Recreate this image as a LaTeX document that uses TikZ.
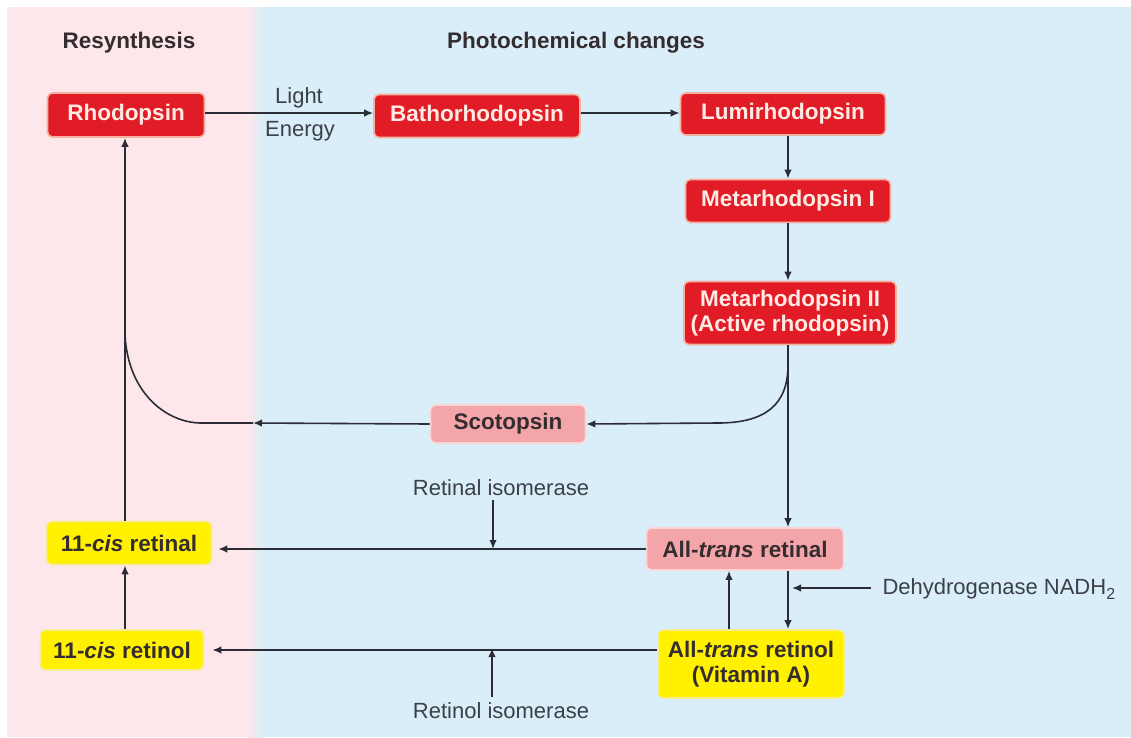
\documentclass[tikz,border=0pt]{standalone}
\usepackage{fontspec}
\setmainfont{Liberation Sans}
\usetikzlibrary{arrows.meta}
\definecolor{bgpink}{RGB}{253,231,234}
\definecolor{bgblue}{RGB}{218,238,249}
\definecolor{redfill}{RGB}{226,28,38}
\definecolor{redrim}{RGB}{246,178,160}
\definecolor{palefill}{RGB}{244,165,170}
\definecolor{palerim}{RGB}{252,214,214}
\definecolor{yelfill}{RGB}{255,241,0}
\definecolor{yelrim}{RGB}{246,236,150}
\definecolor{darktext}{RGB}{52,44,46}
\definecolor{redtext}{RGB}{255,234,228}
\definecolor{linecol}{RGB}{44,44,54}
\definecolor{labeltext}{RGB}{60,64,72}
\begin{document}
\begin{tikzpicture}[x=1pt,y=-1pt,
  boxbase/.style={rounded corners=5pt, inner sep=0pt, align=center, line width=1.6pt,
    font=\fontsize{22.5}{25}\selectfont\bfseries},
  redbox/.style={boxbase, fill=redfill, draw=redrim, text=redtext},
  palebox/.style={boxbase, fill=palefill, draw=palerim, text=darktext},
  yelbox/.style={boxbase, fill=yelfill, draw=yelrim, text=darktext},
  heading/.style={font=\fontsize{22.5}{25}\selectfont\bfseries, text=darktext},
  lbl/.style={font=\fontsize{22}{25}\selectfont, text=labeltext},
  conn/.style={draw=linecol, line width=1.6pt},
  arr/.style={conn, -{Latex[length=9pt,width=7.5pt]}}
]
\useasboundingbox (0,0) rectangle (1131,737);
\fill[white] (0,0) rectangle (1131,737);
\fill[bgpink] (7,7) rectangle (248,737);
\fill[bgblue] (262,7) rectangle (1131,737);
\shade[left color=bgpink, right color=bgblue] (247.5,7) rectangle (262.5,737);

% headings
\node[heading] (hres) at (129,43) {Resynthesis};
\node[heading] (hphot) at (576,43) {Photochemical changes};

% boxes
\node[redbox, minimum width=157pt, minimum height=44pt] (rhod) at (126,115) {Rhodopsin};
\node[redbox, minimum width=206pt, minimum height=43pt] (batho) at (477,116) {Bathorhodopsin};
\node[redbox, minimum width=205pt, minimum height=42pt] (lumi) at (783,114) {Lumirhodopsin};
\node[redbox, minimum width=205pt, minimum height=43pt] (meta1) at (788,201) {Metarhodopsin I};
\node[redbox, minimum width=212pt, minimum height=63pt] (meta2) at (790,313) {Metarhodopsin II\\(Active rhodopsin)};
\node[palebox, minimum width=155pt, minimum height=38pt] (scot) at (508,424) {Scotopsin};
\node[palebox, minimum width=197pt, minimum height=42pt] (atral) at (745,549) {All-\textit{trans} retinal};
\node[yelbox, minimum width=186pt, minimum height=68pt] (atrol) at (751,664) {All-\textit{trans} retinol\\(Vitamin A)};
\node[yelbox, minimum width=165pt, minimum height=43pt] (cral) at (129,543) {11-\textit{cis} retinal};
\node[yelbox, minimum width=163pt, minimum height=40pt] (crol) at (122,650) {11-\textit{cis} retinol};

% labels
\node[lbl] (light) at (299,98) {Light};
\node[lbl] (energy) at (300,131) {Energy};
\node[lbl] (risom) at (501,488) {Retinal isomerase};
\node[lbl] (rolisom) at (501,711) {Retinol isomerase};
\node[lbl, anchor=west] (dehyd) at (879,589) {Dehydrogenase NADH\raisebox{-5pt}{\fontsize{16}{16}\selectfont 2}};

% coordinates
\coordinate (vx) at (125,0);
\coordinate (sctip) at (253,423);
\coordinate (join) at (125,335);
\coordinate (m2bend) at (788,365);
\coordinate (m2flat) at (718,423);
\coordinate (riso) at (493,500);
\coordinate (roliso) at (492,697);
\coordinate (dhstart) at (871,588);
\coordinate (upx) at (729,0);
\coordinate (dnx) at (788,0);

% photochemical chain
\draw[arr] (rhod.east |- 0,113) -- (batho.west |- 0,113);
\draw[arr] (batho.east |- 0,113) -- (lumi.west |- 0,113);
\draw[arr] (lumi.south -| dnx) -- (meta1.north -| dnx);
\draw[arr] (meta1.south -| dnx) -- (meta2.north -| dnx);
\draw[arr] (meta2.south -| dnx) -- (atral.north -| dnx);
\draw[arr] (meta2.south -| dnx) -- (m2bend) .. controls (788,405) and (765,423) .. (m2flat) -- (scot.east);

% scotopsin back to rhodopsin line
\draw[arr] (scot.west) -- (sctip);
\draw[conn] (sctip) -- (200,423) .. controls (165,422) and (128,392) .. (join);

% resynthesis column
\draw[arr] (cral.north -| vx) -- (rhod.south -| vx);
\draw[arr] (crol.north -| vx) -- (cral.south -| vx);

% retinal/retinol horizontal
\draw[arr] (atral.west) -- ([xshift=6pt]atral.west -| cral.east);
\draw[arr] (atrol.west |- crol.east) -- ([xshift=8pt]crol.east);
\draw[arr] (riso) -- (riso |- atral.west);
\draw[arr] (roliso) -- ([yshift=2pt]roliso |- crol.east);

% retinal <-> retinol
\draw[arr] (atrol.north -| upx) -- (atral.south -| upx);
\draw[arr] (atral.south -| dnx) -- (atrol.north -| dnx);
\draw[arr] (dhstart) -- (792,588);
\end{tikzpicture}
\end{document}
